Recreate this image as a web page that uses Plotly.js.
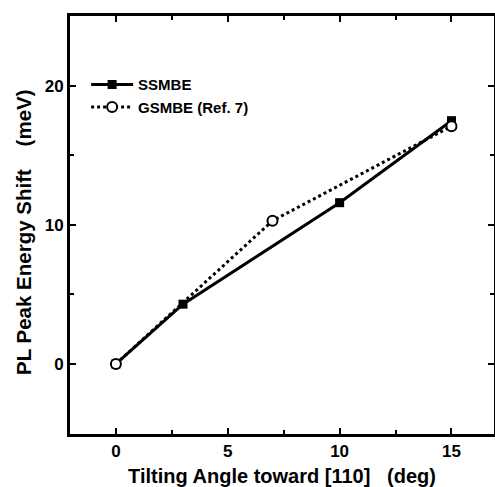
<!DOCTYPE html>
<html>
<head>
<meta charset="utf-8">
<script src="https://cdn.plot.ly/plotly-3.0.1.min.js"></script>
<style>html,body{margin:0;padding:0;background:#fff;}#chart{width:495px;height:487px;}</style>
</head>
<body>
<div id="chart"></div>
<script>
const ssmbeX = [0, 3, 10, 15];
const ssmbeY = [0, 4.3, 11.6, 17.5];
const gsmbeX = [0, 7, 15];
const gsmbeY = [0, 10.3, 17.1];
const xTicks = [0, 5, 10, 15];
const yTicks = [0, 10, 20];
const seriesNames = ['SSMBE', 'GSMBE (Ref. 7)'];

const font = "Liberation Sans, Arial, sans-serif";
const traces = [
  {x: ssmbeX, y: ssmbeY, name: '<b>' + seriesNames[0] + '</b>', mode: 'lines+markers', type: 'scatter',
   line: {color: '#000', width: 3}, marker: {symbol: 'square', size: 9, color: '#000'}},
  {x: gsmbeX, y: gsmbeY, name: '<b>' + seriesNames[1] + '</b>', mode: 'lines+markers', type: 'scatter',
   line: {color: '#000', width: 3, dash: 'dot'},
   marker: {symbol: 'circle', size: 10, color: '#fff', line: {color: '#000', width: 2}}}
];
const axisCommon = {
  showgrid: false, zeroline: false, showline: true, linecolor: '#000', linewidth: 3,
  mirror: 'ticks', ticks: 'inside', ticklen: 6, tickwidth: 2, tickcolor: '#000',
  tickfont: {family: font, size: 17, color: '#000', weight: 'bold'}
};
const layout = {
  width: 495, height: 487,
  margin: {l: 70, r: 1, t: 16, b: 53},
  paper_bgcolor: '#fff', plot_bgcolor: '#fff',
  showlegend: true,
  legend: {x: 0.038, y: 0.875, xanchor: 'left', yanchor: 'top', bgcolor: 'rgba(0,0,0,0)',
           font: {family: font, size: 15, color: '#000', weight: 'bold'}, tracegroupgap: 0, itemwidth: 42},
  xaxis: Object.assign({}, axisCommon, {
    range: [-2.05, 16.9], tickvals: xTicks, ticktext: xTicks.map(v => '<b>' + v + '</b>'),
    minor: {dtick: 2.5, tick0: 0, ticks: 'inside', ticklen: 4, tickwidth: 2, tickcolor: '#000'},
    title: {text: '<b>Tilting Angle toward [110]   (deg)</b>', standoff: 12,
            font: {family: font, size: 20, color: '#000', weight: 'bold'}}
  }),
  yaxis: Object.assign({}, axisCommon, {
    range: [-5.04, 25.03], tickvals: yTicks, ticktext: yTicks.map(v => '<b>' + v + '</b>'),
    minor: {dtick: 5, tick0: 0, ticks: 'inside', ticklen: 4, tickwidth: 2, tickcolor: '#000'}
  }),
  annotations: [{
    text: '<b>PL Peak Energy Shift    (meV)</b>', textangle: -90, showarrow: false,
    xref: 'paper', yref: 'paper', x: -0.111, y: 0.483, xanchor: 'center', yanchor: 'middle',
    font: {family: font, size: 20.5, color: '#000', weight: 'bold'}
  }]
};
Plotly.newPlot('chart', traces, layout, {displayModeBar: false, staticPlot: true});
</script>
</body>
</html>
